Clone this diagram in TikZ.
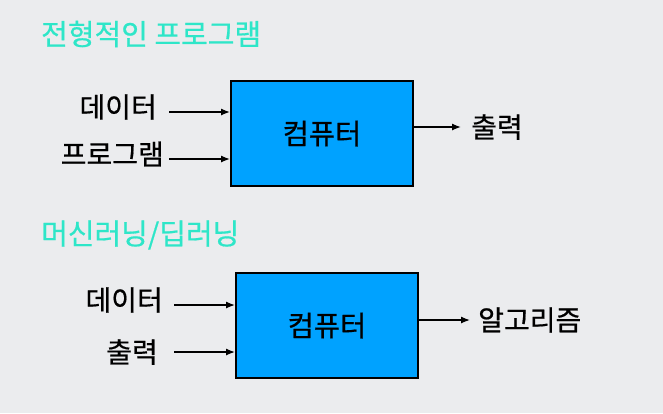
\documentclass[tikz,border=0pt]{standalone}
\usepackage{fontspec}
\setmainfont{Noto Sans CJK KR}[FakeBold=0.6]
\usetikzlibrary{arrows.meta,positioning}
\definecolor{pagebg}{HTML}{EBECEE}
\definecolor{boxblue}{HTML}{00A2FF}
\definecolor{titleteal}{HTML}{2EE6C8}
\begin{document}
\begin{tikzpicture}
		[x=1pt,y=-1pt,
		comp box/.style={draw=black,line width=2pt,fill=boxblue,minimum width=182pt,minimum height=105pt,inner sep=0pt,font=\fontsize{28.5}{32}\selectfont},
		main node/.style={draw=none,fill=none,inner sep=0pt,font=\fontsize{28}{32}\selectfont},
		title node/.style={draw=none,inner sep=0pt,anchor=west,text=titleteal,font=\fontsize{29}{32}\selectfont},
		flow/.style={line width=1.3pt,-{Latex[length=9pt,width=7pt]}}]
		\fill[pagebg] (0,0) rectangle (663,413);
		\useasboundingbox (0,0) rectangle (663,413);
		
		% traditional program
		\node[title node] (t1) at (41,34) {전형적인 프로그램};
		\node[comp box] (c1) at (322,133.5) {컴퓨터};
		\coordinate (d1) at (169,112);
		\coordinate (p1) at (169,159);
		\coordinate (r1) at (461,127);
		\node[main node,anchor=east] (1) at (157,107) {데이터};
		\node[main node,anchor=east] (2) at (164,154) {프로그램};
		\node[main node,anchor=west] (3) at (471,127) {출력};
		\draw[flow] (d1) -- (d1 -| c1.west);
		\draw[flow] (p1) -- (p1 -| c1.west);
		\draw[flow] (r1 -| c1.east) -- (r1);
		
		% machine learning
		\node[title node] (t2) at (41,235) {머신러닝/딥러닝};
		\node[comp box] (c2) at (327,325.5) {컴퓨터};
		\coordinate (d2) at (174,305);
		\coordinate (o2) at (174,352);
		\coordinate (r2) at (470,320);
		\node[main node,anchor=east] (4) at (163,300) {데이터};
		\node[main node,anchor=east] (5) at (158,352) {출력};
		\node[main node,anchor=west] (6) at (478,320) {알고리즘};
		\draw[flow] (d2) -- (d2 -| c2.west);
		\draw[flow] (o2) -- (o2 -| c2.west);
		\draw[flow] (r2 -| c2.east) -- (r2);
\end{tikzpicture}
\end{document}
